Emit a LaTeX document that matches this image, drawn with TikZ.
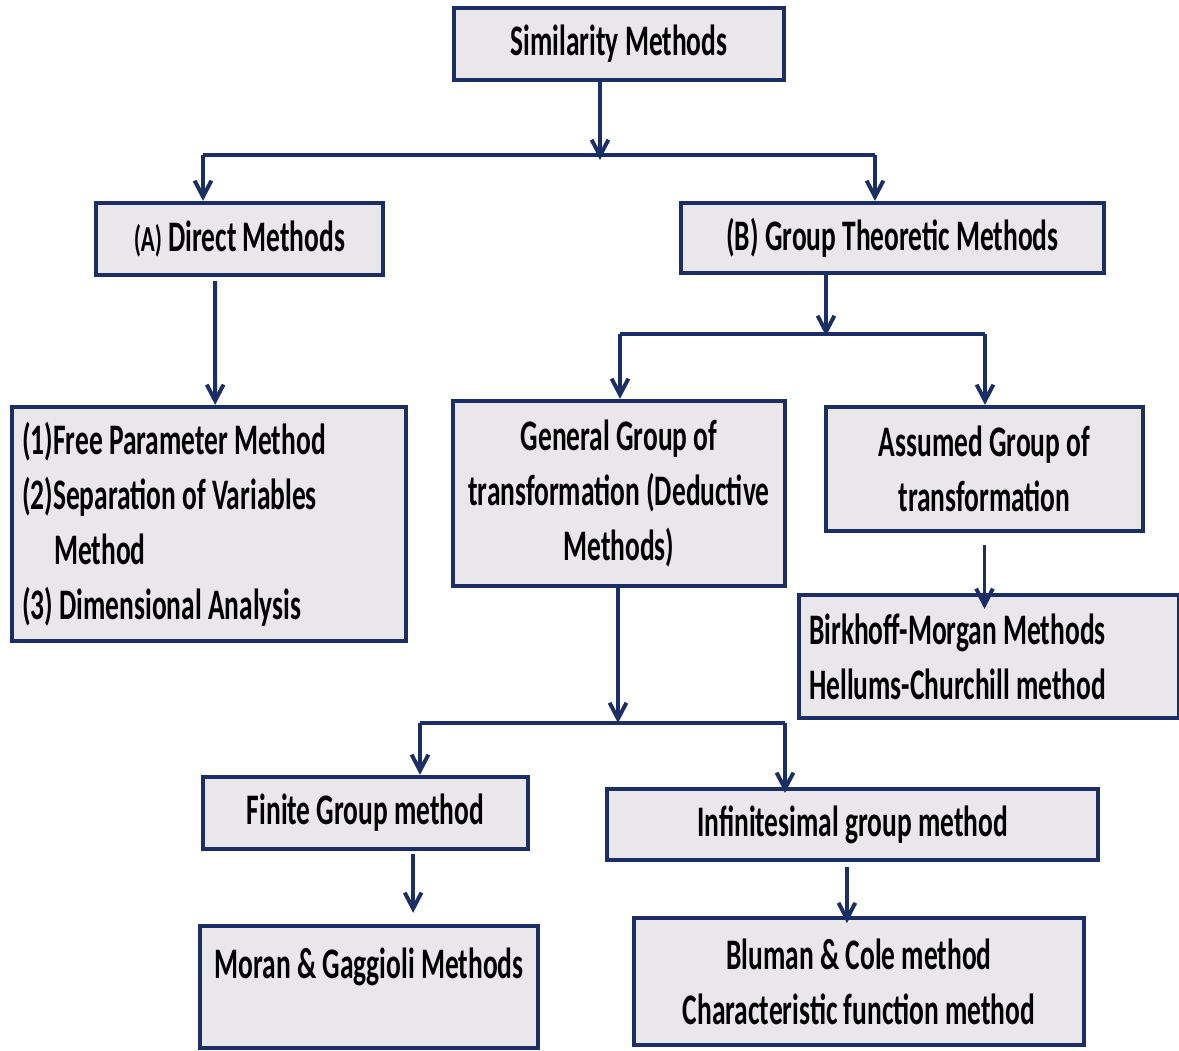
\documentclass[tikz,border=0pt]{standalone}
\usepackage{fontspec}
\setmainfont{Carlito}[FakeStretch=0.63]
\usetikzlibrary{arrows.meta}
\definecolor{navy}{HTML}{1C2E66}
\definecolor{boxgray}{HTML}{E9E7EA}

\begin{document}
\begin{tikzpicture}[x=0.025cm,y=-0.025cm,
  methodbox/.style={rectangle,draw=navy,fill=boxgray,line width=3pt,
    inner sep=0pt,font=\bfseries\fontsize{31}{39}\selectfont},
  conn/.style={draw=navy,line width=2.8pt},
  arr/.style={conn,-{Straight Barb[length=4mm,width=4.2mm]}}]
  \useasboundingbox (0,0) rectangle (1179,1051);
  %\draw (current page.south west) to[grid with coordinates] (current page.north east);
\node[methodbox,minimum width=8.25cm,minimum height=1.8cm]
  (sim) at (619,44) {Similarity Methods};
\node[methodbox,minimum width=7.175cm,minimum height=1.8cm]
  (dir) at (239.5,239) {{\fontsize{26}{30}\selectfont(A)} Direct Methods};
\node[methodbox,minimum width=10.575cm,minimum height=1.75cm]
  (grp) at (892.5,238) {(B) Group Theoretic Methods};
\node[methodbox,anchor=west,minimum height=5.85cm,text width=9.35cm,
  inner xsep=0.25cm,align=flush left]
  (free) at (10,524)
  {(1)Free Parameter Method \\ (2)Separation of Variables \\
   \hspace*{0.8cm}Method \\ (3) Dimensional Analysis};
\node[methodbox,minimum width=8.3cm,minimum height=4.625cm,align=center]
  (gen) at (619,493.5) {General Group of \\ transformation (Deductive \\ Methods)};
\node[methodbox,minimum width=7.925cm,minimum height=3.1cm,align=center]
  (ass) at (984.5,469) {Assumed Group of \\ transformation};
\node[methodbox,anchor=west,minimum height=3.075cm,text width=9.0cm,
  inner xsep=0.25cm,align=flush left]
  (bir) at (797,656.5) {Birkhoff-Morgan Methods \\ Hellums-Churchill method};
\node[methodbox,minimum width=8.125cm,minimum height=1.8cm]
  (fin) at (365.5,813) {Finite Group method};
\node[methodbox,minimum width=12.275cm,minimum height=1.775cm]
  (inf) at (852.5,824.5) {Infinitesimal group method};
\node[methodbox,anchor=north,minimum width=8.45cm,inner ysep=0.45cm,
  text height=0.85cm,text depth=1.3cm]
  (mor) at (369,924) {Moran \& Gaggioli Methods};
\node[methodbox,minimum width=11.25cm,minimum height=3.175cm,align=center]
  (blu) at (859,981.5) {Bluman \& Cole method \\ Characteristic function method};

% first split
\coordinate (top) at (600,160);
\coordinate (topl) at (203,155);
\coordinate (topr) at (875,155);
\draw[arr] (sim.south -| top) -- (top);
\draw[conn] (topl) -- (topr);
\draw[arr] (topl) -- (dir.north -| topl);
\draw[arr] (topr) -- (grp.north -| topr);
\draw[arr] ([xshift=-0.61cm,yshift=-0.1cm]dir.south) -- ([xshift=0.15cm]free.north);

% group theoretic split
\coordinate (mid) at (826,336);
\coordinate (midl) at (620,334);
\coordinate (midr) at (985,334);
\draw[arr] (grp.south -| mid) -- (mid);
\draw[conn] (midl) -- (midr);
\draw[arr] (midl) -- (gen.north -| midl);
\draw[arr] (midr) -- (ass.north -| midr);
\draw[arr] ([yshift=-0.3cm]ass.south) -- ([yshift=-0.4cm]ass.south |- bir.north);

% general group split
\coordinate (low) at (618,723);
\coordinate (lowl) at (420,723);
\coordinate (lowr) at (785,723);
\draw[arr] (gen.south -| low) -- (low);
\draw[conn] (lowl) -- (lowr);
\draw[arr] (lowl) -- (fin.north -| lowl);
\draw[arr] (lowr) -- ([yshift=-0.15cm]inf.north -| lowr);
\draw[arr] ([xshift=1.19cm,yshift=-0.08cm]fin.south) -- ([xshift=1.19cm,yshift=0.28cm]fin.south |- mor.north);
\draw[arr] ([xshift=-0.14cm,yshift=-0.12cm]inf.south) -- ([xshift=-0.14cm,yshift=-0.18cm]inf.south |- blu.north);
\end{tikzpicture}
\end{document}
